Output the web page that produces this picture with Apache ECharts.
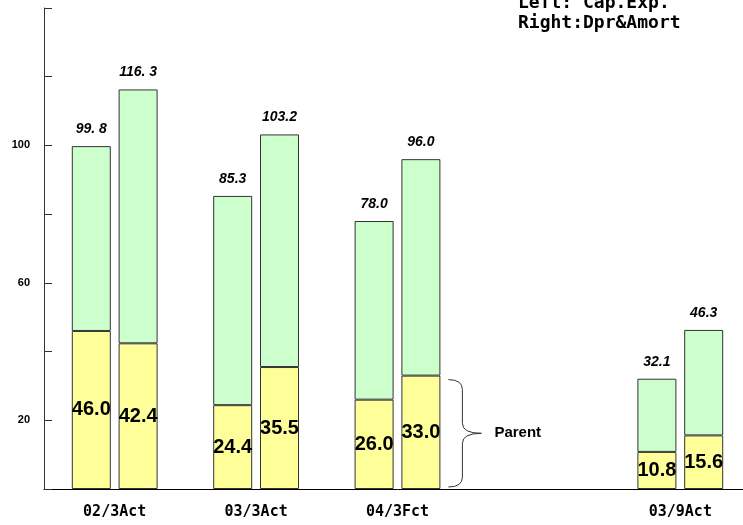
<!DOCTYPE html>
<html><head><meta charset="utf-8">
<script src="https://cdn.jsdelivr.net/npm/echarts@6/dist/echarts.min.js"></script>
<style>html,body{margin:0;padding:0;background:#fff;overflow:hidden;width:743px;height:525px}#c{width:751px;height:525px}</style>
</head><body><div id="c"></div>
<script>
const categories = ['02/3Act', '03/3Act', '04/3Fct', '', '03/9Act'];
const capExParent = [46.0, 24.4, 26.0, null, 10.8];
const capExTotal = [99.8, 85.3, 78.0, null, 32.1];
const dprParent = [42.4, 35.5, 33.0, null, 15.6];
const dprTotal = [116.3, 103.2, 96.0, null, 46.3];
const capExTotalLabels = ['99. 8', '85.3', '78.0', '', '32.1'];
const dprTotalLabels = ['116. 3', '103.2', '96.0', '', '46.3'];
const yLabelledTicks = [20, 60, 100];
const legendLines = ['Left: Cap.Exp.', 'Right:Dpr&Amort'];
const braceLabel = 'Parent';

function diff(t, p) { return t.map((v, i) => v == null ? null : +(v - p[i]).toFixed(1)); }

const YELLOW = '#FFFF99', GREEN = '#CCFFCC', BORDER = '#333';
const innerLabel = {
  show: true, position: 'inside', color: '#000', fontSize: 20, fontWeight: 'bold',
  fontFamily: 'Liberation Sans, Arial, sans-serif',
  formatter: p => (p.value == null ? '' : Number(p.value).toFixed(1))
};
function topLabel(arr) {
  return {
    show: true, position: 'top', distance: 10, color: '#000', fontSize: 14,
    fontWeight: 'bold', fontStyle: 'italic', fontFamily: 'Liberation Sans, Arial, sans-serif',
    formatter: p => arr[p.dataIndex]
  };
}

const chart = echarts.init(document.getElementById('c'), null, { renderer: 'canvas' });
chart.setOption({
  animation: false,
  backgroundColor: '#fff',
  grid: { left: 44, top: 8, bottom: 36, right: 0, containLabel: false },
  xAxis: {
    type: 'category', data: categories,
    axisLine: { lineStyle: { color: '#000', width: 1 } },
    axisTick: { show: false },
    axisLabel: { margin: 16, color: '#000', fontSize: 15, fontWeight: 'bold', fontFamily: 'DejaVu Sans Mono, monospace' }
  },
  yAxis: {
    type: 'value', min: 0, max: 140, interval: 20,
    splitLine: { show: false },
    axisLine: { show: true, lineStyle: { color: '#333', width: 1 } },
    axisTick: { show: true, inside: true, length: 8, lineStyle: { color: '#333' } },
    axisLabel: {
      margin: 14, color: '#000', fontSize: 11, fontWeight: 'bold',
      fontFamily: 'Liberation Sans, Arial, sans-serif',
      formatter: v => yLabelledTicks.includes(v) ? String(v) : ''
    }
  },
  series: [
    { type: 'bar', stack: 'L', data: capExParent, barWidth: 39, barGap: '20%',
      itemStyle: { color: YELLOW, borderColor: BORDER, borderWidth: 1 }, label: innerLabel },
    { type: 'bar', stack: 'L', data: diff(capExTotal, capExParent), barWidth: 39, barGap: '20%',
      itemStyle: { color: GREEN, borderColor: BORDER, borderWidth: 1 }, label: topLabel(capExTotalLabels) },
    { type: 'bar', stack: 'R', data: dprParent, barWidth: 39, barGap: '20%',
      itemStyle: { color: YELLOW, borderColor: BORDER, borderWidth: 1 }, label: innerLabel },
    { type: 'bar', stack: 'R', data: diff(dprTotal, dprParent), barWidth: 39, barGap: '20%',
      itemStyle: { color: GREEN, borderColor: BORDER, borderWidth: 1 }, label: topLabel(dprTotalLabels) }
  ]
});

// annotations: legend text and brace around the parent part of the 04/3Fct right bar
let barRight = 441;
try {
  const lay = chart.getModel().getSeriesByIndex(2).getData().getItemLayout(2);
  barRight = lay.x + lay.width;
} catch (e) {}
const yTop = chart.convertToPixel({ yAxisIndex: 0 }, dprParent[2]) + 4;
const yBot = chart.convertToPixel({ yAxisIndex: 0 }, 0) - 2;
const yMid = (yTop + yBot) / 2;
const x0 = barRight + 8, xm = x0 + 14, xt = x0 + 33, r = 10;
const braceStyle = { fill: 'none', stroke: '#333', lineWidth: 1 };
const curve = (x1, y1, cx, cy, x2, y2) => ({ type: 'bezierCurve', shape: { x1, y1, cpx1: cx, cpy1: cy, x2, y2 }, style: braceStyle });
const seg = (x1, y1, x2, y2) => ({ type: 'line', shape: { x1, y1, x2, y2 }, style: braceStyle });

chart.setOption({
  graphic: [
    curve(x0, yTop, xm, yTop, xm, yTop + r),
    seg(xm, yTop + r, xm, yMid - r),
    curve(xm, yMid - r, xm, yMid, xt, yMid),
    curve(xt, yMid, xm, yMid, xm, yMid + r),
    seg(xm, yMid + r, xm, yBot - r),
    curve(xm, yBot - r, xm, yBot, x0, yBot),
    { type: 'text', x: xt + 13, y: yMid, style: { text: braceLabel, fill: '#000', font: 'bold 15px "Liberation Sans", Arial, sans-serif', verticalAlign: 'middle' } },
    { type: 'text', x: 518, y: 3, style: { text: legendLines[0], fill: '#000', font: 'bold 18px "DejaVu Sans Mono", monospace', verticalAlign: 'middle' } },
    { type: 'text', x: 518, y: 23, style: { text: legendLines[1], fill: '#000', font: 'bold 18px "DejaVu Sans Mono", monospace', verticalAlign: 'middle' } }
  ]
});
</script>
</body></html>
